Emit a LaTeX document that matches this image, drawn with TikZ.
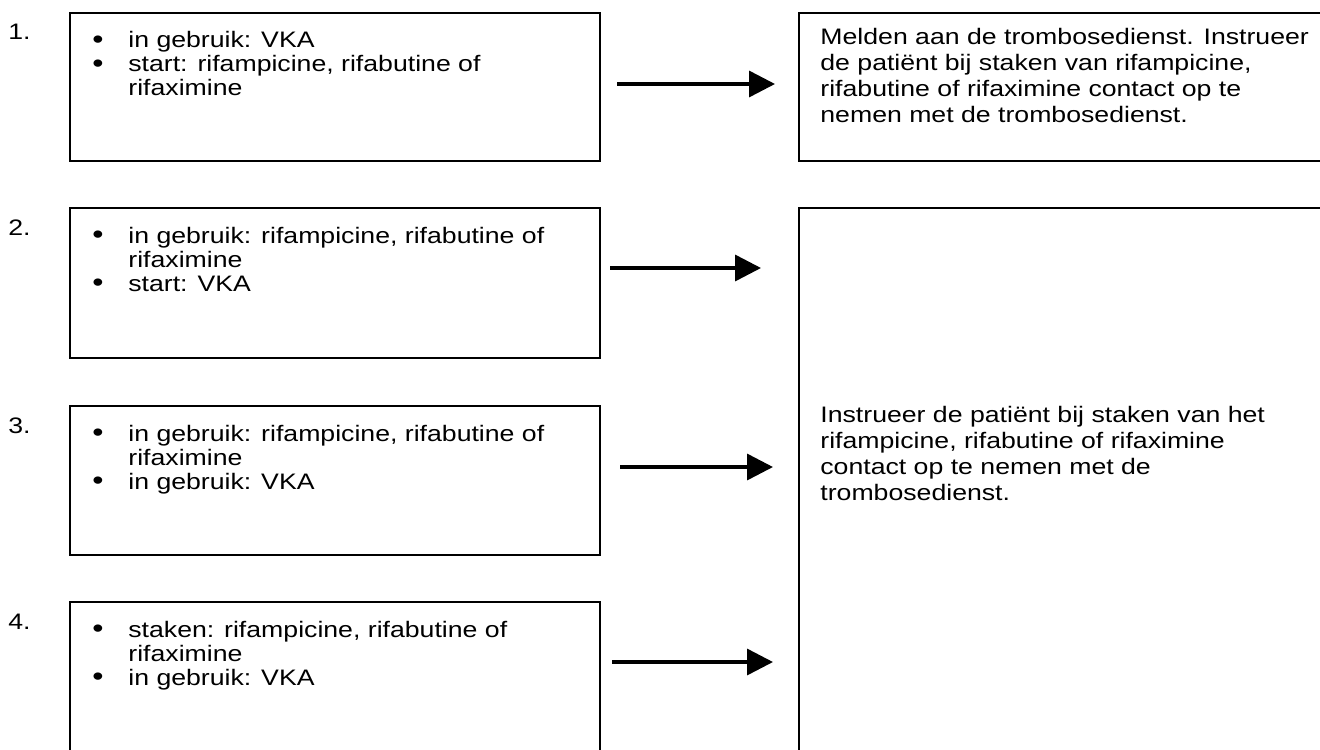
\documentclass[tikz,border=0pt]{standalone}
\usepackage{fontspec}
\setmainfont{Liberation Sans}[FakeStretch=1.19]
\usetikzlibrary{arrows.meta}
\newcommand{\bul}{\raisebox{-0.2pt}{\scalebox{1.2}{\textbullet}}}
\begin{document}
\begin{tikzpicture}[x=0.5pt,y=-0.5pt,
  box/.style={draw, line width=0.85pt, inner sep=0pt, anchor=north west},
  lbox/.style={box, minimum width=265pt},
  rbox/.style={box, minimum width=270pt},
  num/.style={anchor=base west, inner sep=0pt, font=\fontsize{11.2pt}{13pt}\selectfont},
  ltxt/.style={anchor=base west, inner sep=0pt, font=\fontsize{11.2pt}{12pt}\selectfont},
  rtxt/.style={anchor=base west, inner sep=0pt, font=\fontsize{11.2pt}{13pt}\selectfont},
  arr/.style={line width=1.75pt, -{Triangle[length=13pt,width=13pt]}}]
\useasboundingbox (0,0) rectangle (1320,749);
\clip (0,0) rectangle (1320,749);
\fill[white] (0,0) rectangle (1320,749);

% left boxes
\node[lbox, minimum height=74pt] (b1) at (69,12) {};
\node[lbox, minimum height=75pt] (b2) at (69,207) {};
\node[lbox, minimum height=74.5pt] (b3) at (69,405) {};
\node[lbox, minimum height=100pt] (b4) at (69,601) {};
% right boxes
\node[rbox, minimum height=74pt] (r1) at (798,12) {};
\node[rbox, minimum height=300pt] (r2) at (798,207) {};

% numbers
\node[num] (n1) at (8,40) {1.};
\node[num] (n2) at (8,235) {2.};
\node[num] (n3) at (8,433) {3.};
\node[num] (n4) at (8,629) {4.};

% list texts
\node[ltxt] (t1) at (92,48) {\begin{tabular}[t]{@{}p{18pt}@{}l@{}}
\bul & in gebruik: VKA\\
\bul & start: rifampicine, rifabutine of\\
 & rifaximine\end{tabular}};
\node[ltxt] (t2) at (92,243) {\begin{tabular}[t]{@{}p{18pt}@{}l@{}}
\bul & in gebruik: rifampicine, rifabutine of\\
 & rifaximine\\
\bul & start: VKA\end{tabular}};
\node[ltxt] (t3) at (92,441) {\begin{tabular}[t]{@{}p{18pt}@{}l@{}}
\bul & in gebruik: rifampicine, rifabutine of\\
 & rifaximine\\
\bul & in gebruik: VKA\end{tabular}};
\node[ltxt] (t4) at (92,637) {\begin{tabular}[t]{@{}p{18pt}@{}l@{}}
\bul & staken: rifampicine, rifabutine of\\
 & rifaximine\\
\bul & in gebruik: VKA\end{tabular}};

% right texts
\node[rtxt] (u1) at (820,45) {\begin{tabular}[t]{@{}l@{}}
Melden aan de trombosedienst. Instrueer\\
de patiënt bij staken van rifampicine,\\
rifabutine of rifaximine contact op te\\
nemen met de trombosedienst.\end{tabular}};
\node[rtxt] (u2) at (820,422) {\begin{tabular}[t]{@{}l@{}}
Instrueer de patiënt bij staken van het\\
rifampicine, rifabutine of rifaximine\\
contact op te nemen met de\\
trombosedienst.\end{tabular}};

% arrows
\coordinate (a1s) at (617,84);  \coordinate (a1e) at (775,84);
\coordinate (a2s) at (610,268); \coordinate (a2e) at (761,268);
\coordinate (a3s) at (620,467); \coordinate (a3e) at (773,467);
\coordinate (a4s) at (612,662); \coordinate (a4e) at (773,662);
\draw[arr] (a1s) -- (a1e);
\draw[arr] (a2s) -- (a2e);
\draw[arr] (a3s) -- (a3e);
\draw[arr] (a4s) -- (a4e);
\end{tikzpicture}
\end{document}
